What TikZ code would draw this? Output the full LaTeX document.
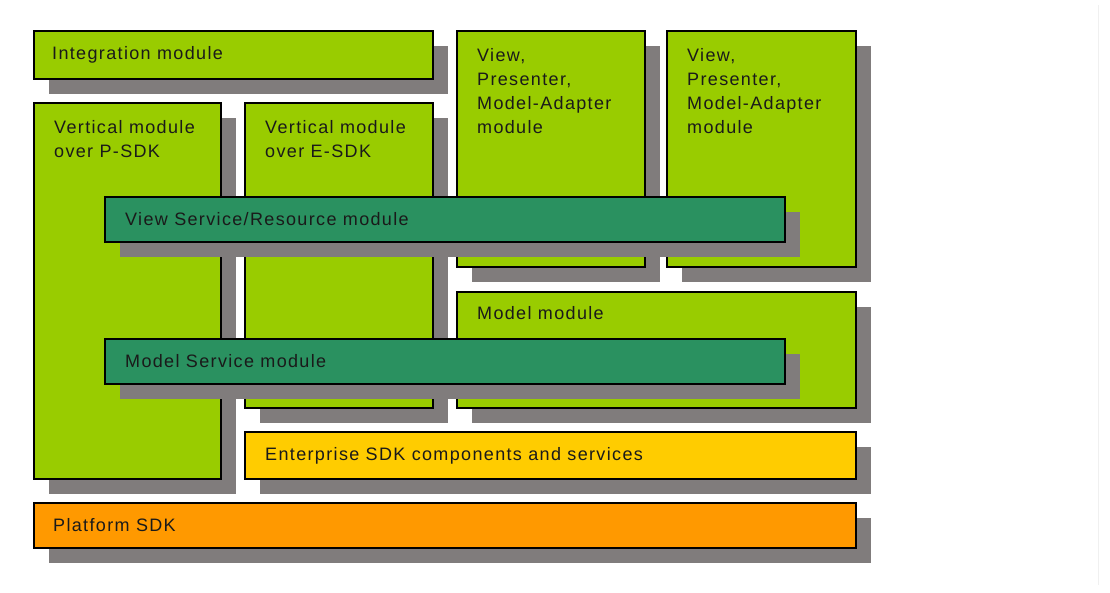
\documentclass[tikz,border=0pt]{standalone}
\usepackage{fontspec}
\setmainfont{Liberation Sans}[LetterSpace=7.5]
\usetikzlibrary{calc}
\definecolor{lime}{HTML}{99CC00}
\definecolor{tealg}{HTML}{2A9160}
\definecolor{yel}{HTML}{FFCC00}
\definecolor{org}{HTML}{FF9900}
\definecolor{shd}{HTML}{807C7C}
\definecolor{txt}{HTML}{1A1A1A}
\tikzset{
  blk/.style={draw=black, line width=1.2pt, anchor=north west, inner sep=0pt, outer sep=0pt},
  shadowbox/.style={fill=shd},
  lbl/.style={inner sep=0pt, align=left, font=\fontsize{18}{24}\selectfont, text=txt},
  toplbl/.style={lbl, anchor=north west},
  midlbl/.style={lbl, anchor=west},
}
\newcommand\mkbox[6]{%
  \fill[shadowbox] (#2+15,#3+15) rectangle (#4+15,#5+15);
  \node[blk, fill=#6, minimum width={#4pt-#2pt}, minimum height={#5pt-#3pt}] (#1) at (#2,#3) {};
}
\begin{document}
\begin{tikzpicture}[x=1pt,y=-1pt]
\useasboundingbox (0,0) rectangle (1110,592);
\fill[white] (0,0) rectangle (1110,592);
\draw[color=black!6, line width=1pt] (1098,5) -- (1098,585);
\mkbox{integ}{34}{31}{433}{79}{lime}
\mkbox{vp}{34}{103}{221}{479}{lime}
\mkbox{ve}{245}{103}{433}{408}{lime}
\mkbox{view1}{457}{31}{645}{267}{lime}
\mkbox{view2}{667}{31}{856}{267}{lime}
\mkbox{model}{457}{292}{856}{408}{lime}
\mkbox{ent}{245}{432}{856}{479}{yel}
\mkbox{plat}{34}{503}{856}{548}{org}
\mkbox{vsrv}{105}{197}{785}{242}{tealg}
\mkbox{msrv}{105}{339}{785}{384}{tealg}
\node[midlbl] (tinteg) at ($(integ.west)+(18,0)$) {Integration module};
\node[toplbl] (tvp) at ($(vp.north west)+(20,17)$) {Vertical module\\over P-SDK};
\node[toplbl] (tve) at ($(ve.north west)+(20,17)$) {Vertical module\\over E-SDK};
\node[toplbl] (tview1) at ($(view1.north west)+(20,17)$) {View,\\Presenter,\\Model-Adapter\\module};
\node[toplbl] (tview2) at ($(view2.north west)+(20,17)$) {View,\\Presenter,\\Model-Adapter\\module};
\node[toplbl] (tmodel) at ($(model.north west)+(20,14)$) {Model module};
\node[midlbl] (tvsrv) at ($(vsrv.west)+(20,0)$) {View Service/Resource module};
\node[midlbl] (tmsrv) at ($(msrv.west)+(20,0)$) {Model Service module};
\node[midlbl] (tent) at ($(ent.west)+(20,0)$) {Enterprise SDK components and services};
\node[midlbl] (tplat) at ($(plat.west)+(19,0)$) {Platform SDK};
\end{tikzpicture}
\end{document}
